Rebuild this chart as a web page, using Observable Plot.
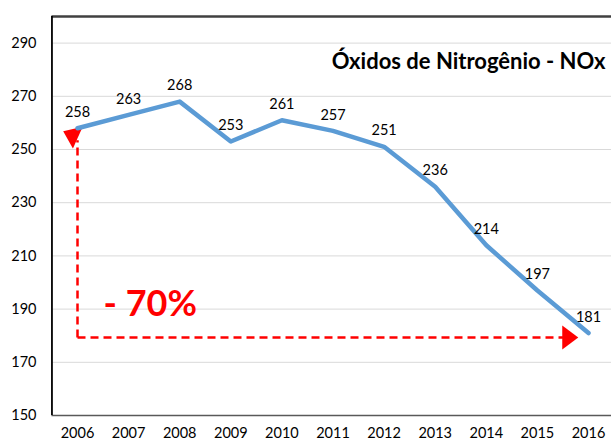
<!DOCTYPE html>
<html>
<head>
<meta charset="utf-8">
<script src="https://cdn.jsdelivr.net/npm/d3@7"></script>
<script src="https://cdn.jsdelivr.net/npm/@observablehq/plot@0.6"></script>
<style>
  html, body { margin: 0; padding: 0; background: #fff; }
  #chart svg { display: block; }
</style>
</head>
<body>
<div id="chart"></div>
<script>
const years = [2006, 2007, 2008, 2009, 2010, 2011, 2012, 2013, 2014, 2015, 2016];
const nox = [258, 263, 268, 253, 261, 257, 251, 236, 214, 197, 181];
const yTicks = [150, 170, 190, 210, 230, 250, 270, 290];
const gridTicks = [170, 190, 210, 230, 250, 270, 290];
const title = "Óxidos de Nitrogênio - NOx";
const changeLabel = "- 70%";

// annotation (data coordinates)
const baseYear = 2006, baseLevel = 179.3;
const vArrowEnd = 253.5, hArrowEnd = 2015.5;
const vTip = {x: 2005.72, y: 256.9};
const hTip = {x: 2015.8, y: 179.3};

const data = years.map((y, i) => ({year: y, value: nox[i]}));

const arrowHead = {
  draw(ctx) {
    ctx.moveTo(0, 0);
    ctx.lineTo(-12, 16);
    ctx.lineTo(12, 16);
    ctx.closePath();
  }
};

const font = "Lato, 'Open Sans', sans-serif";
const red = "#ff0000";

const chart = Plot.plot({
  width: 611,
  height: 442,
  marginTop: 16,
  marginBottom: 27,
  marginLeft: 51,
  marginRight: 0,
  style: {fontFamily: font, fontSize: "14.5px", color: "#000", background: "#fff"},
  x: {type: "linear", domain: [2006, 2016], range: [77, 588], ticks: years, tickFormat: "d", tickSize: 0, tickPadding: 12, label: null},
  y: {domain: [150, 300], range: [415, 16], ticks: yTicks, tickSize: 0, tickPadding: 15, label: null},
  marks: [
    Plot.ruleY(gridTicks, {stroke: "#d9d9d9", strokeWidth: 1, x1: 2005.5, x2: 2017}),
    Plot.ruleY([150], {stroke: "#595959", strokeWidth: 1.5, x1: 2005.5, x2: 2017}),
    Plot.ruleY([300], {stroke: "#404040", strokeWidth: 2.5, x1: 2005.5, x2: 2017}),
    Plot.ruleX([2005.5], {stroke: "#000", strokeWidth: 1.8, y1: 150, y2: 300}),
    // red dashed arrows
    Plot.link([{x1: baseYear, y1: baseLevel, x2: baseYear, y2: vArrowEnd}], {
      x1: "x1", y1: "y1", x2: "x2", y2: "y2", stroke: red, strokeWidth: 2.5, strokeDasharray: "8,5"
    }),
    Plot.link([{x1: baseYear, y1: baseLevel, x2: hArrowEnd, y2: baseLevel}], {
      x1: "x1", y1: "y1", x2: "x2", y2: "y2", stroke: red, strokeWidth: 2.5, strokeDasharray: "8,5"
    }),
    Plot.dot([vTip], {x: "x", y: "y", symbol: arrowHead, rotate: -66, fill: red, stroke: "none"}),
    Plot.dot([hTip], {x: "x", y: "y", symbol: arrowHead, rotate: 90, fill: red, stroke: "none"}),
    // data line
    Plot.line(data, {x: "year", y: "value", stroke: "#5b9bd5", strokeWidth: 4.5, strokeLinejoin: "round", strokeLinecap: "round"}),
    Plot.text(data, {x: "year", y: "value", text: d => String(d.value), dy: -16, fill: "#000", fontSize: 14.5}),
    // annotation text
    Plot.text([{x: 2006.51, y: 191.9}], {x: "x", y: "y", text: () => changeLabel, textAnchor: "start", fill: red, fontSize: 36, fontWeight: "bold"}),
    // title
    Plot.text([title], {frameAnchor: "top-right", text: d => d, textAnchor: "end", dx: -6, dy: 36.5, fontSize: 22, fontWeight: "bold", fill: "#000"})
  ]
});
document.getElementById("chart").appendChild(chart);
</script>
</body>
</html>
